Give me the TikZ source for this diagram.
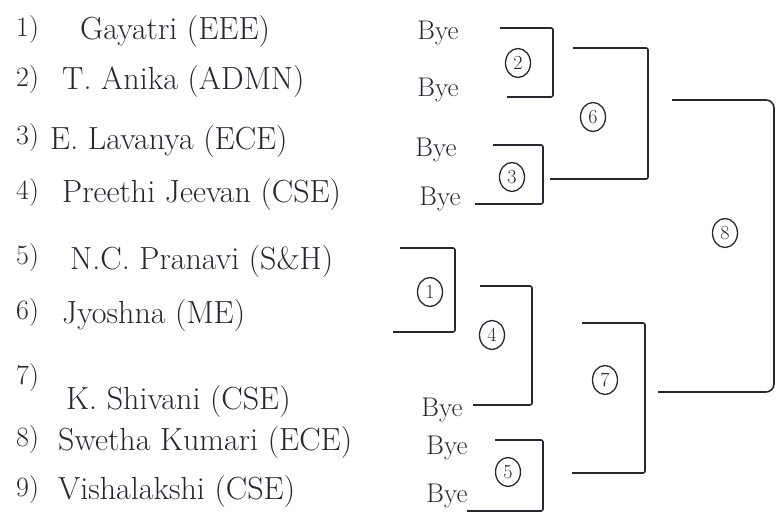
\documentclass[tikz,border=0pt]{standalone}
\usepackage{tikz}
\usetikzlibrary{positioning,shapes.geometric}

\definecolor{ink}{RGB}{38,38,52}

\begin{document}
\begin{tikzpicture}[
  x=1pt, y=-1pt,
  entry/.style={anchor=west, inner sep=0pt, text=ink, font=\fontsize{32}{34}\selectfont},
  num/.style={anchor=west, inner sep=0pt, text=ink, font=\fontsize{28}{30}\selectfont},
  bye/.style={inner sep=0pt, text=ink, font=\fontsize{27}{30}\selectfont},
  rnd/.style={ellipse, draw=ink, line width=1.3pt, text=ink, inner sep=0pt,
              minimum width=25pt, minimum height=29pt, font=\fontsize{20}{22}\selectfont},
  bracket/.style={draw=ink, line width=1.6pt, line join=round, rounded corners=2pt}
]
\useasboundingbox (0,0) rectangle (777,526);

% players
\node[num] (n1) at (16,30)  {1)};
\node[entry] (p1) at (80,32)  {Gayatri (EEE)};
\node[num] (n2) at (16,80)  {2)};
\node[entry] (p2) at (62,82)  {T. Anika (ADMN)};
\node[num] (n3) at (16,138) {3)};
\node[entry] (p3) at (50,142) {E. Lavanya (ECE)};
\node[num] (n4) at (16,193) {4)};
\node[entry] (p4) at (62,195) {Preethi Jeevan (CSE)};
\node[num] (n5) at (16,258) {5)};
\node[entry] (p5) at (70,262) {N.C. Pranavi (S\&H)};
\node[num] (n6) at (16,313) {6)};
\node[entry] (p6) at (62,316) {Jyoshna (ME)};
\node[num] (n7) at (16,378) {7)};
\node[entry] (p7) at (66,402) {K. Shivani (CSE)};
\node[num] (n8) at (16,440) {8)};
\node[entry] (p8) at (58,443) {Swetha Kumari (ECE)};
\node[num] (n9) at (16,490) {9)};
\node[entry] (p9) at (58,492) {Vishalakshi (CSE)};

% byes
\node[bye] (y1) at (438,33)  {Bye};
\node[bye] (y2) at (438,90)  {Bye};
\node[bye] (y3) at (436,150) {Bye};
\node[bye] (y4) at (440,199) {Bye};
\node[bye] (y7) at (442,410) {Bye};
\node[bye] (y8) at (447,448) {Bye};
\node[bye] (y9) at (447,496) {Bye};

% match numbers
\node[rnd] (m1) at (430,292) {1};
\node[rnd] (m2) at (518,63)  {2};
\node[rnd] (m3) at (512,177) {3};
\node[rnd] (m4) at (492,335) {4};
\node[rnd] (m5) at (508,472) {5};
\node[rnd] (m6) at (593,117) {6};
\node[rnd] (m7) at (605,380) {7};
\node[rnd] (m8) at (725,233) {8};

% bracket ends
\coordinate (b2t) at (500,28);  \coordinate (b2b) at (507,97);  \coordinate (b2r) at (553,0);
\coordinate (b3t) at (493,145); \coordinate (b3b) at (475,204); \coordinate (b3r) at (543,0);
\coordinate (b6t) at (573,48);  \coordinate (b6b) at (550,179); \coordinate (b6r) at (648,0);
\coordinate (b1t) at (400,248); \coordinate (b1b) at (393,332); \coordinate (b1r) at (455,0);
\coordinate (b4t) at (480,286); \coordinate (b4b) at (473,405); \coordinate (b4r) at (532,0);
\coordinate (b5t) at (495,440); \coordinate (b5b) at (467,511); \coordinate (b5r) at (543,0);
\coordinate (b7t) at (582,323); \coordinate (b7b) at (572,473); \coordinate (b7r) at (645,0);
\coordinate (b8t) at (672,100); \coordinate (b8b) at (658,392); \coordinate (b8r) at (774,0);

\draw[bracket] (b2t) -| (b2r |- b2b) -- (b2b);
\draw[bracket] (b3t) -| (b3r |- b3b) -- (b3b);
\draw[bracket] (b6t) -| (b6r |- b6b) -- (b6b);
\draw[bracket] (b1t) -| (b1r |- b1b) -- (b1b);
\draw[bracket] (b4t) -| (b4r |- b4b) -- (b4b);
\draw[bracket] (b5t) -| (b5r |- b5b) -- (b5b);
\draw[bracket] (b7t) -| (b7r |- b7b) -- (b7b);
\draw[bracket, rounded corners=8pt] (b8t) -| (b8r |- b8b) -- (b8b);
\end{tikzpicture}
\end{document}
